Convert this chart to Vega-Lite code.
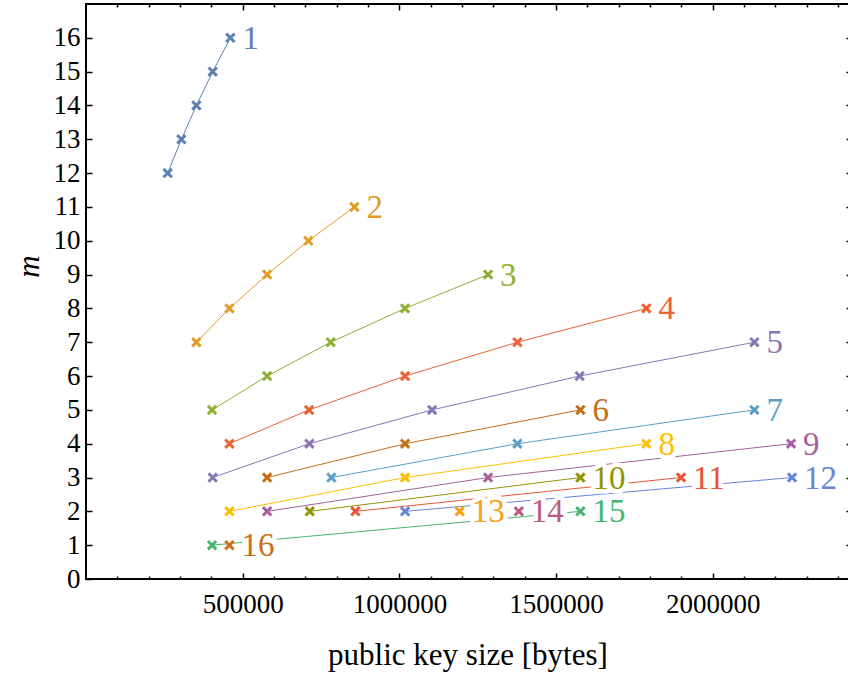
{
  "$schema": "https://vega.github.io/schema/vega-lite/v6.json",
  "autosize": "none",
  "width": 763,
  "height": 575,
  "padding": {"left": 86, "top": 4, "right": 0, "bottom": 98},
  "background": "white",
  "config": {
    "view": {"stroke": "black", "strokeWidth": 2},
    "font": "Liberation Serif",
    "axis": {"labelFont": "Liberation Serif", "titleFont": "Liberation Serif", "labelColor": "black", "titleColor": "black", "tickColor": "black", "grid": false, "domain": false, "titleFontWeight": "normal"}
  },
  "data": {
    "values": [
      {"s": 1, "x": 260700, "m": 12}, {"s": 1, "x": 304400, "m": 13}, {"s": 1, "x": 352300, "m": 14}, {"s": 1, "x": 404300, "m": 15}, {"s": 1, "x": 460700, "m": 16},
      {"s": 2, "x": 352300, "m": 7}, {"s": 2, "x": 457600, "m": 8}, {"s": 2, "x": 577900, "m": 9}, {"s": 2, "x": 709600, "m": 10}, {"s": 2, "x": 856400, "m": 11},
      {"s": 3, "x": 402300, "m": 5}, {"s": 3, "x": 577900, "m": 6}, {"s": 3, "x": 780800, "m": 7}, {"s": 3, "x": 1018100, "m": 8}, {"s": 3, "x": 1283000, "m": 9},
      {"s": 4, "x": 457600, "m": 4}, {"s": 4, "x": 711800, "m": 5}, {"s": 4, "x": 1018100, "m": 6}, {"s": 4, "x": 1376500, "m": 7}, {"s": 4, "x": 1788100, "m": 8},
      {"s": 5, "x": 404300, "m": 3}, {"s": 5, "x": 712800, "m": 4}, {"s": 5, "x": 1104300, "m": 5}, {"s": 5, "x": 1575300, "m": 6}, {"s": 5, "x": 2132800, "m": 7},
      {"s": 6, "x": 577900, "m": 3}, {"s": 6, "x": 1018100, "m": 4}, {"s": 6, "x": 1577600, "m": 5},
      {"s": 7, "x": 783000, "m": 3}, {"s": 7, "x": 1376500, "m": 4}, {"s": 7, "x": 2132800, "m": 5},
      {"s": 8, "x": 457600, "m": 2}, {"s": 8, "x": 1018100, "m": 3}, {"s": 8, "x": 1788100, "m": 4},
      {"s": 9, "x": 577900, "m": 2}, {"s": 9, "x": 1283000, "m": 3}, {"s": 9, "x": 2249800, "m": 4},
      {"s": 10, "x": 713800, "m": 2}, {"s": 10, "x": 1577600, "m": 3},
      {"s": 11, "x": 859600, "m": 2}, {"s": 11, "x": 1898800, "m": 3},
      {"s": 12, "x": 1018100, "m": 2}, {"s": 12, "x": 2252900, "m": 3},
      {"s": 13, "x": 1192400, "m": 2},
      {"s": 14, "x": 1380900, "m": 2},
      {"s": 15, "x": 402300, "m": 1}, {"s": 15, "x": 1577600, "m": 2},
      {"s": 16, "x": 457600, "m": 1}
    ]
  },
  "encoding": {
    "color": {"field": "s", "type": "nominal", "legend": null,
      "scale": {"domain": [1,2,3,4,5,6,7,8,9,10,11,12,13,14,15,16],
        "range": ["#5E81B5","#E19C24","#8FB032","#EB6235","#8778B3","#C56E1A","#5D9EC7","#FFBF00","#A5609D","#929600","#E95536","#6685D9","#F89F13","#BC5B80","#47B66D","#C8701E"]}}
  },
  "layer": [
    {
      "mark": {"type": "line", "strokeWidth": 1, "clip": true},
      "encoding": {
        "x": {"field": "x", "type": "quantitative", "scale": {"domain": [0, 2434600], "nice": false, "zero": false},
          "axis": {"orient": "bottom", "values": [500000, 1000000, 1500000, 2000000], "format": "d", "tickSize": -6, "tickWidth": 1.5, "labelFontSize": 27, "labelPadding": 18, "title": "public key size [bytes]", "titleFontSize": 31, "titlePadding": 23}},
        "y": {"field": "m", "type": "quantitative", "scale": {"domain": [0, 17], "nice": false},
          "axis": {"orient": "left", "values": [0,1,2,3,4,5,6,7,8,9,10,11,12,13,14,15,16], "tickSize": -6, "tickWidth": 1.5, "labelFontSize": 27, "labelPadding": 12, "title": "m", "titleFontStyle": "italic", "titleFontSize": 31, "titleX": -48, "titleY": 262, "titleBaseline": "alphabetic"}},
        "detail": {"field": "s"},
        "order": {"field": "x", "type": "quantitative"}
      }
    },
    {
      "transform": [
        {"joinaggregate": [{"op": "max", "field": "m", "as": "mmax"}], "groupby": ["s"]},
        {"filter": "datum.m === datum.mmax"}
      ],
      "mark": {"type": "text", "align": "left", "baseline": "middle", "dx": 12, "dy": 1, "fontSize": 33, "font": "Liberation Serif", "fill": "white", "stroke": "white", "strokeWidth": 9, "strokeJoin": "round"},
      "encoding": {
        "x": {"field": "x", "type": "quantitative", "axis": {"orient": "bottom", "values": [100000,200000,300000,400000,600000,700000,800000,900000,1100000,1200000,1300000,1400000,1600000,1700000,1800000,1900000,2100000,2200000,2300000,2400000], "labels": false, "tickSize": -3, "tickWidth": 1.5, "title": null}},
        "y": {"field": "m", "type": "quantitative", "axis": {"orient": "right", "values": [1,2,3,4,5,6,7,8,9,10,11,12,13,14,15,16], "labels": false, "tickSize": -3, "tickWidth": 1.5, "title": null}},
        "text": {"field": "s", "type": "nominal"},
        "color": {"value": "white"}
      }
    },
    {
      "mark": {"type": "point", "shape": "M-1,-1L1,1M-1,1L1,-1", "filled": false, "size": 70, "strokeWidth": 3, "opacity": 1},
      "encoding": {
        "x": {"field": "x", "type": "quantitative", "axis": {"orient": "top", "values": [500000, 1000000, 1500000, 2000000], "labels": false, "tickSize": -6, "tickWidth": 1.5, "title": null}},
        "y": {"field": "m", "type": "quantitative", "axis": null}
      }
    },
    {
      "transform": [
        {"joinaggregate": [{"op": "max", "field": "m", "as": "mmax"}], "groupby": ["s"]},
        {"filter": "datum.m === datum.mmax"}
      ],
      "mark": {"type": "text", "align": "left", "baseline": "middle", "dx": 12, "dy": 1, "fontSize": 33, "font": "Liberation Serif"},
      "encoding": {
        "x": {"field": "x", "type": "quantitative", "axis": {"orient": "top", "values": [100000,200000,300000,400000,600000,700000,800000,900000,1100000,1200000,1300000,1400000,1600000,1700000,1800000,1900000,2100000,2200000,2300000,2400000], "labels": false, "tickSize": -3, "tickWidth": 1.5, "title": null}},
        "y": {"field": "m", "type": "quantitative", "axis": null},
        "text": {"field": "s", "type": "nominal"}
      }
    }
  ],
  "resolve": {"axis": {"x": "independent", "y": "independent"}}
}
